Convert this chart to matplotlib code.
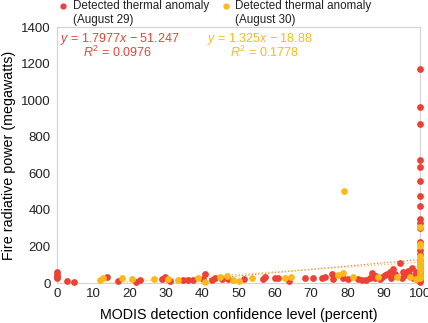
import numpy as np
import matplotlib.pyplot as plt
from matplotlib.lines import Line2D

plt.rcParams['font.family'] = ['Liberation Sans', 'DejaVu Sans']
plt.rcParams['mathtext.fontset'] = 'custom'
plt.rcParams['mathtext.rm'] = 'Liberation Sans'
plt.rcParams['mathtext.it'] = 'Liberation Sans:italic'

# August 29 detections (confidence %, FRP MW)
conf_29 = [0, 0, 0, 0, 2.8, 4.8, 13.9, 16.9, 21.9, 22.9, 28.8, 29.8, 31, 34.8, 36.2, 37.6,
           40.3, 40.8, 42.6, 43.5, 45.4, 47.2, 51.5, 56.8, 57.3, 60, 61, 64, 68.3, 70.6,
           72.9, 73.8, 75.7, 76, 78.9, 80.2, 83, 84, 85, 86.2, 86.7, 87.5, 88, 89, 89.5,
           90.4, 91, 91.7, 92, 92.6, 93, 93.5, 94.5, 95, 95.4, 96, 96.8, 97, 97.7, 98,
           98.5, 99, 99,
           100, 100, 100, 100, 100, 100, 100, 100, 100, 100, 100, 100, 100, 100, 100, 100,
           100, 100, 100, 100, 100, 100, 100]
frp_29 = [60, 45, 35, 28, 11, 3, 33, 10, 8, 18, 22, 35, 10, 15, 15, 15,
          20, 50, 15, 25, 20, 20, 20, 20, 35, 25, 30, 10, 25, 25,
          25, 35, 50, 20, 30, 20, 20, 15, 15, 30, 55, 25, 40, 20, 35,
          45, 50, 60, 30, 75, 50, 40, 110, 25, 60, 45, 65, 50, 80, 30,
          40, 20, 60,
          1170, 963, 870, 673, 636, 558, 476, 423, 350, 330, 300, 226, 180, 160, 120, 100,
          80, 60, 40, 25, 15, 8, 50]

# August 30 detections
conf_30 = [11.8, 12.7, 17.8, 20.6, 26.7, 30.7, 33.4, 38.9, 40.8, 44.9, 46.7, 48.6, 50,
           53.6, 62.8, 64.6, 77.5, 78.7, 79, 81.6, 88.5, 93.6, 97.2, 99,
           100, 100, 100, 100, 100, 100, 100, 100, 100, 100, 100, 100]
frp_30 = [19, 25, 30, 22, 22, 20, 18, 25, 8, 35, 40, 15, 10,
          25, 30, 35, 45, 55, 503, 35, 35, 35, 35, 20,
          308, 213, 200, 145, 130, 115, 100, 85, 70, 55, 40, 30]

# linear fits shown on the chart
fit_29 = [1.7977, -51.247]
fit_30 = [1.325, -18.88]
r2_29 = 0.0976
r2_30 = 0.1778

red = '#ec4236'
yellow = '#fcb918'

W, H = 428, 323
fig = plt.figure(figsize=(W / 100, H / 100), dpi=100)
ax = fig.add_axes([57 / W, 1 - 283 / H, 363 / W, 256 / H])

xx = np.array([0, 100])
ax.plot(xx, fit_29[0] * xx + fit_29[1], color=red, ls=':', lw=0.9, alpha=0.7)
ax.plot(xx, fit_30[0] * xx + fit_30[1], color=yellow, ls=':', lw=0.9, alpha=0.85)

ax.scatter(conf_29, frp_29, s=24, color=red, lw=0, clip_on=False, zorder=3)
ax.scatter(conf_30, frp_30, s=24, color=yellow, lw=0, clip_on=False, zorder=4)

ax.set_xlim(0, 100)
ax.set_ylim(0, 1400)
ax.set_xticks(range(0, 101, 10))
ax.set_yticks(range(0, 1401, 200))
ax.tick_params(length=0, labelsize=9.5, colors='#222222')
ax.tick_params(axis='x', pad=3.5)
ax.tick_params(axis='y', pad=4.5)
for s in ax.spines.values():
    s.set_color('#d4d4d4')
    s.set_linewidth(0.8)

ax.set_xlabel('MODIS detection confidence level (percent)', fontsize=10.3, labelpad=6)
ax.set_ylabel('Fire radiative power (megawatts)', fontsize=10.3, labelpad=4)

def eq_text(x, y, fit, r2, color):
    sign = '\u2212' if fit[1] < 0 else '+'
    ax.text(x, y, r'$y$ = ' + f'{fit[0]}' + r'$x$ ' + f'{sign} {abs(fit[1])}',
            transform=ax.transAxes, color=color, fontsize=9, va='top', ha='left')
    ax.text(x + 0.063, y - 0.053, r'$R^2$' + f' = {r2}',
            transform=ax.transAxes, color=color, fontsize=9, va='top', ha='left')

eq_text(3 / 363, 0.985, fit_29, r2_29, red)
eq_text(150 / 363, 0.985, fit_30, r2_30, yellow)

# legend drawn above the axes, marker aligned with the first line
for mx, tx, col, day in [(63, 73, red, 'August 29'), (226, 235, yellow, 'August 30')]:
    fig.add_artist(Line2D([mx / W], [1 - 5.5 / H], marker='o', ms=4.5, color=col,
                          mec='none', transform=fig.transFigure))
    fig.text(tx / W, 1 - 0.5 / H, f'Detected thermal anomaly\n({day})', fontsize=8.4,
             va='top', ha='left', linespacing=1.15, color='#222222')

fig.savefig('out.png', dpi=100)
